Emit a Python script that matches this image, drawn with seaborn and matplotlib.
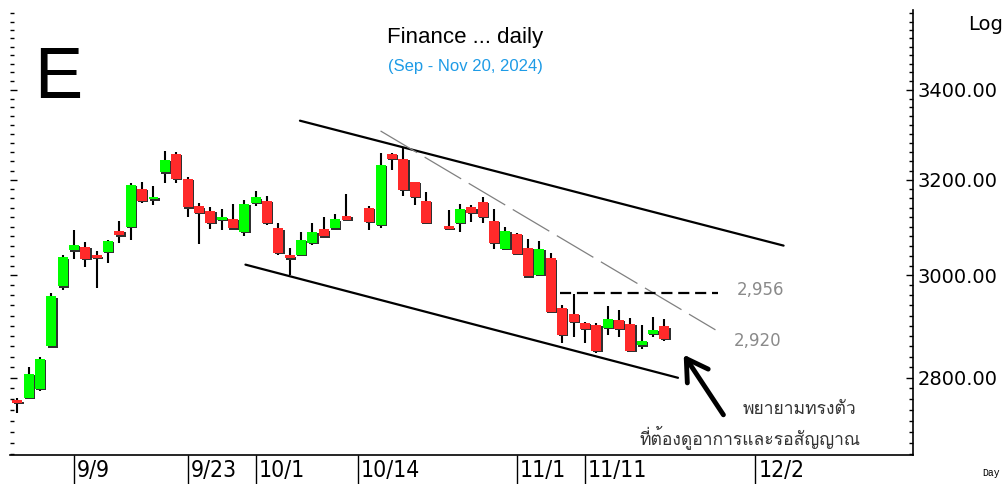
import numpy as np
import matplotlib
matplotlib.use("Agg")
import matplotlib.pyplot as plt
import matplotlib.ticker as mticker
from matplotlib import font_manager as fm
from matplotlib.ft2font import FT2Font
from matplotlib.transforms import ScaledTranslation
import seaborn as sns

sns.set_theme(style="white")
plt.rcParams["font.family"] = ["DejaVu Sans"]

# ------------------------------------------------------------------
# Data (daily candles, Sep 2 - Nov 20 2024; nan = market holiday)
# ------------------------------------------------------------------
opens = [2758, 2763, 2779, 2860, 2978, 3051, 3058, 3041, 3048, 3092,
         3100, 3181, 3158, 3216, 3257, 3202, 3143, 3133, 3115, 3117,
         3089, 3150, 3155, 3097, 3041, 3042, 3066, 3095, 3097, 3123,
         np.nan, 3140, 3104, 3256, 3245, 3195, 3155, np.nan, 3100, 3108,
         3141, 3152, 3113, 3054, 3085, 3057, 3001, 3035, 2935, 2924,
         2906, 2902, 2896, 2912, 2904, 2862, 2884, 2899]
highs = [2763, 2821, 2840, 2965, 3042, 3094, 3068, 3049, 3073, 3113,
         3192, 3196, 3187, 3263, 3261, 3207, 3150, 3141, 3138, 3149,
         3157, 3176, 3166, 3109, 3056, 3089, 3109, 3120, 3128, 3169,
         np.nan, 3143, 3259, 3259, 3272, 3196, 3173, np.nan, 3136, 3148,
         3147, 3163, 3137, 3100, 3088, 3074, 3071, 3046, 2941, 2963,
         2907, 2905, 2938, 2930, 2915, 2902, 2917, 2913]
lows = [2735, 2760, 2776, 2858, 2971, 3033, 3018, 2975, 3025, 3066,
        3073, 3150, 3146, 3193, 3193, 3120, 3064, 3095, 3094, 3096,
        3081, 3144, 3104, 3042, 3001, 3040, 3063, 3079, 3096, 3114,
        np.nan, 3094, 3097, 3221, 3165, 3147, 3108, np.nan, 3093, 3090,
        3111, 3108, 3055, 3053, 3043, 2997, 2998, 2927, 2866, 2879,
        2866, 2848, 2882, 2879, 2851, 2855, 2878, 2871]
closes = [2753, 2808, 2836, 2958, 3037, 3063, 3034, 3036, 3071, 3082,
          3189, 3155, 3162, 3243, 3202, 3141, 3129, 3109, 3121, 3097,
          3149, 3162, 3108, 3046, 3035, 3073, 3089, 3080, 3116, 3115,
          np.nan, 3111, 3233, 3245, 3179, 3163, 3109, np.nan, 3096, 3138,
          3130, 3121, 3066, 3092, 3044, 2998, 3055, 2928, 2882, 2908,
          2894, 2851, 2913, 2894, 2852, 2871, 2892, 2874]

tick_pos = [5, 15, 21, 30, 44, 50, 65]
tick_labels = ["9/9", "9/23", "10/1", "10/14", "11/1", "11/11", "12/2"]

price_ticks = [2800, 3000, 3200, 3400]
minor_ticks = list(range(2660, 3600, 20))

# trend lines: (bar index, price)
upper_x, upper_y = [24.9, 67.5], [3330, 3061]
lower_x, lower_y = [20.1, 58.2], [3022, 2800]
fall_x, fall_y = [32.0, 61.5], [3307, 2892]
resist_x, resist_y = [47.8, 61.7], [2965, 2965]
arrow_tail, arrow_head = (62.2, 2731), (58.7, 2844)

# ------------------------------------------------------------------
# Fonts
# ------------------------------------------------------------------
names = {f.name for f in fm.fontManager.ttflist}


def pick(*cands):
    for c in cands:
        if c in names:
            return c
    return "DejaVu Sans"


thai = None
for f in fm.fontManager.ttflist:
    try:
        if 0x0E1E in FT2Font(f.fname).get_charmap():
            thai = f.name
            break
    except Exception:
        continue
thai_family = [thai, "DejaVu Sans"] if thai else ["DejaVu Sans"]
sans = pick("Liberation Sans", "Arial")
narrow = pick("Liberation Sans Narrow", "DejaVu Sans Condensed", "DejaVu Sans")

# ------------------------------------------------------------------
# Figure
# ------------------------------------------------------------------
fig = plt.figure(figsize=(10.08, 4.84), dpi=100)
fig.patch.set_facecolor("white")
ax = fig.add_axes([10 / 1008, 29 / 484, 903 / 1008, 445 / 484])
ax.set_facecolor("white")
ax.set_yscale("log")

o = np.array(opens, float)
h = np.array(highs, float)
l = np.array(lows, float)
c = np.array(closes, float)
x = np.arange(len(o))
ok = ~np.isnan(o)
x, o, h, l, c = x[ok], o[ok], h[ok], l[ok], c[ok]

bottoms = np.minimum(o, c)
heights = np.maximum(np.abs(c - o), bottoms * 0.0016)
colors = np.where(c >= o, "#00FF00", "#FF2A2A")

ax.vlines(x, l, h, color="black", lw=1.5, zorder=2)
shadow = ax.transData + ScaledTranslation(0.013, -0.013, fig.dpi_scale_trans)
ax.bar(x, heights, bottom=bottoms, width=0.88, color="#303030", lw=0,
       transform=shadow, zorder=3)
ax.bar(x, heights, bottom=bottoms, width=0.88, color=colors, lw=0, zorder=4)

# channel lines
sns.lineplot(x=upper_x, y=upper_y, ax=ax, color="black", lw=1.6, zorder=5)
sns.lineplot(x=lower_x, y=lower_y, ax=ax, color="black", lw=1.6, zorder=5)
ax.plot(fall_x, fall_y, color="#808080", lw=0.9, dashes=(34, 7), zorder=5)
ax.plot(resist_x, resist_y, color="black", lw=1.6, dashes=(5, 2.6), zorder=5)

ax.annotate("2,956", xy=(resist_x[1], resist_y[1]), xytext=(14, 2),
            textcoords="offset points", ha="left", va="center",
            color="#8a8a8a", fontsize=12)
ax.annotate("2,920", xy=(fall_x[1], fall_y[1]), xytext=(13, -8),
            textcoords="offset points", ha="left", va="center",
            color="#8a8a8a", fontsize=12)

ax.annotate("", xy=arrow_head, xytext=arrow_tail,
            arrowprops=dict(arrowstyle="->,head_length=0.75,head_width=0.45",
                            lw=3.5, color="black", mutation_scale=20,
                            shrinkA=0, shrinkB=0), zorder=6)

# ------------------------------------------------------------------
# Axes
# ------------------------------------------------------------------
ax.set_xlim(-0.64, 78.9)
ax.set_ylim(2658, 3588)
ax.yaxis.set_major_locator(mticker.FixedLocator(price_ticks))
ax.yaxis.set_minor_locator(mticker.FixedLocator(minor_ticks))
ax.yaxis.set_major_formatter(mticker.FuncFormatter(lambda v, p: f"{v:.2f}"))
ax.yaxis.set_minor_formatter(mticker.NullFormatter())
ax.tick_params(axis="y", which="both", left=True, right=True, labelleft=False,
               labelright=True, direction="in", color="black", pad=3.5,
               labelsize=14, labelcolor="black")
ax.tick_params(axis="y", which="major", length=5, width=1)
ax.tick_params(axis="y", which="minor", length=3, width=1)

ax.set_xticks(tick_pos)
ax.set_xticklabels(tick_labels, fontfamily=narrow, fontstretch="condensed",
                   fontsize=16.5)
ax.tick_params(axis="x", which="major", bottom=True, direction="out",
               length=21, width=1, color="black", pad=-18, labelcolor="black")
for lab in ax.get_xticklabels():
    lab.set_horizontalalignment("left")
    lab.set_transform(lab.get_transform()
                      + ScaledTranslation(0.03, 0, fig.dpi_scale_trans))

for side in ["left", "top"]:
    ax.spines[side].set_visible(False)
for side in ["right", "bottom"]:
    ax.spines[side].set_color("black")
    ax.spines[side].set_linewidth(1.2)

# ------------------------------------------------------------------
# Texts
# ------------------------------------------------------------------
fig.text(34 / 1008, 1 - 98 / 484, "E", fontsize=52, fontfamily=sans,
         ha="left", va="baseline", color="black")
fig.text(465 / 1008, 1 - 43 / 484, "Finance ... daily", fontsize=16,
         fontfamily=sans, ha="center", va="baseline", color="black")
fig.text(465 / 1008, 1 - 71 / 484, "(Sep - Nov 20, 2024)", fontsize=12,
         fontfamily=sans, ha="center", va="baseline", color="#1E9BE6")
fig.text(968 / 1008, 1 - 30 / 484, "Log", fontsize=14, ha="left",
         va="baseline", color="black")
fig.text(982 / 1008, 1 - 476 / 484, "Day", fontsize=7,
         fontfamily=pick("Liberation Mono", "DejaVu Sans Mono"),
         ha="left", va="baseline", color="black")
fig.text(743 / 1008, 1 - 410 / 484, "พยายามทรงตัว", fontsize=12.6,
         family=thai_family, ha="left", va="center", color="#333333")
fig.text(640 / 1008, 1 - 437 / 484, "ที่ต้องดูอาการและรอสัญญาณ", fontsize=12.6,
         family=thai_family, ha="left", va="center", color="#333333")

fig.savefig("out.png", dpi=100, facecolor="white")
